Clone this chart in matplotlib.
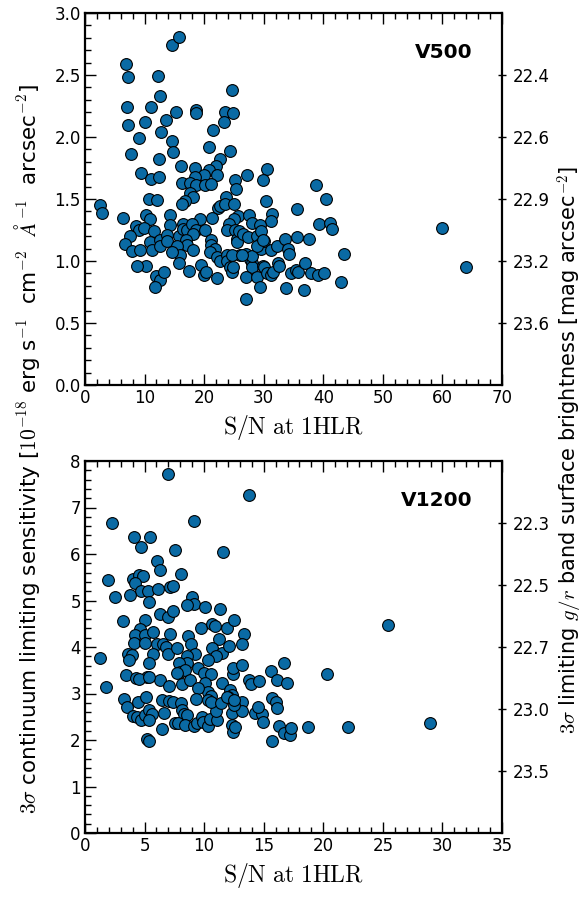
import matplotlib
matplotlib.use("Agg")
import matplotlib.pyplot as plt
from matplotlib.ticker import MultipleLocator

plt.rcParams['mathtext.fontset'] = 'cm'
plt.rcParams['font.family'] = ['DejaVu Sans']

# ---------------- data ----------------
v500_sn = [14.55, 15.8, 6.9, 7.2, 12.25, 12.65, 24.7, 7.05, 11.0, 15.3, 18.7, 18.6, 23.5, 24.9,
           7.15, 10.0, 13.65, 23.3, 21.5, 12.7, 9.05, 14.65, 20.8, 7.65, 14.8, 24.4, 12.35, 22.6,
           16.1, 18.5, 22.0, 20.8, 30.5, 9.35, 11.1, 12.5, 19.9, 22.2, 18.5, 27.25,
           16.2, 17.6, 18.6, 20.1, 21.2, 25.2, 25.3, 29.9, 38.8,
           17.6, 18.2, 23.6, 10.7, 12.1, 16.8, 30.3, 40.4,
           16.3, 2.45, 2.9, 22.3, 22.7, 23.5, 25.0, 35.6,
           6.4, 10.2, 10.9, 14.2, 14.3, 19.3, 21.4, 25.6, 25.0, 27.6, 31.4, 31.3, 28.1, 24.1, 23.9,
           29.3, 39.2, 41.2, 41.5, 59.9,
           8.5, 9.1, 9.85, 11.6, 7.55, 6.7, 7.9, 9.2, 10.9, 11.2, 12.6, 12.6, 13.7, 13.7, 15.7,
           16.5, 16.5, 17.1, 17.9, 18.6, 18.2, 17.0, 17.1, 15.4, 15.9, 14.55, 15.7, 18.1, 17.5,
           20.2, 21.15, 21.15, 21.8, 20.9, 22.1, 22.7, 23.9, 23.9, 24.3, 24.7, 19.4, 19.9, 20.3, 22.2,
           25.1, 25.45, 25.55, 25.9, 26.6, 27.4, 26.1, 27.0, 27.7, 28.0, 28.0, 28.1, 27.1, 28.8, 27.0, 29.3,
           28.8, 29.4, 29.5, 30.05, 29.8, 30.05, 30.5, 31.2, 31.5, 31.3, 32.2, 32.4, 32.5, 33.5, 34.0,
           34.2, 35.6, 37.6, 34.5, 35.5, 35.8, 37.0, 38.0, 39.05, 40.2, 33.7, 36.7, 43.0, 43.5, 63.9,
           10.3, 8.7, 12.0, 12.6, 13.3, 11.7, 29.5, 28.8, 29.9, 24.6, 26.3, 24.9]
v500_sens = [2.74, 2.81, 2.59, 2.48, 2.49, 2.33, 2.38, 2.24, 2.24, 2.20, 2.22, 2.19, 2.20, 2.19,
             2.10, 2.12, 2.14, 2.12, 2.06, 2.04, 1.99, 1.97, 1.92, 1.86, 1.88, 1.89, 1.82, 1.82,
             1.77, 1.75, 1.77, 1.73, 1.74, 1.71, 1.66, 1.68, 1.69, 1.69, 1.68, 1.69,
             1.63, 1.63, 1.61, 1.61, 1.62, 1.65, 1.58, 1.65, 1.61,
             1.55, 1.52, 1.52, 1.50, 1.49, 1.48, 1.48, 1.50,
             1.46, 1.45, 1.39, 1.43, 1.44, 1.46, 1.46, 1.42,
             1.35, 1.37, 1.34, 1.37, 1.29, 1.34, 1.35, 1.36, 1.34, 1.37, 1.38, 1.32, 1.31, 1.30, 1.25,
             1.29, 1.30, 1.31, 1.26, 1.27,
             1.28, 1.25, 1.27, 1.24, 1.20, 1.14, 1.08, 1.09, 1.15, 1.09, 1.17, 1.12, 1.21, 1.16, 1.20,
             1.30, 1.26, 1.25, 1.30, 1.25, 1.22, 1.17, 1.13, 1.12, 1.05, 1.07, 0.98, 1.09, 0.92,
             1.25, 1.17, 1.13, 1.10, 1.07, 1.03, 1.00, 1.05, 1.00, 0.95, 0.91, 0.97, 0.89, 0.91, 0.86,
             1.25, 1.18, 1.15, 1.24, 1.22, 1.19, 1.05, 1.06, 1.02, 0.98, 0.95, 1.04, 0.87, 0.87, 0.69, 0.79,
             1.20, 1.14, 1.10, 1.16, 0.96, 0.95, 0.90, 0.89, 0.91, 1.09, 1.12, 0.98, 0.96, 1.18, 1.10,
             1.06, 1.19, 1.18, 0.90, 0.93, 0.91, 0.98, 0.90, 0.89, 0.90, 0.78, 0.77, 0.83, 1.06, 0.95,
             0.96, 0.96, 0.88, 0.85, 0.91, 0.79, 1.24, 1.12, 1.17, 1.05, 1.05, 0.95]

v1200_sn = [7.0, 13.74,
            2.27, 9.12, 4.14, 5.43, 4.73, 7.55, 11.6,
            6.04, 6.3, 8.08, 1.93, 4.06, 4.56, 4.9, 4.2,
            4.73, 5.29, 6.13, 7.13, 7.39, 2.55, 3.8, 5.34,
            8.95, 9.15, 8.6, 10.1, 11.3, 6.3, 6.94, 7.39,
            3.19, 5.06, 9.7, 10.66, 10.9, 11.9, 12.5, 25.45,
            4.59, 4.17, 5.06, 4.09, 5.06, 5.73, 7.13, 8.65, 8.92,
            11.25, 13.35, 13.15, 6.07, 6.52, 6.8, 6.94, 7.7,
            3.58, 3.97, 3.72, 5.68, 1.26, 5.4,
            10.7, 11.5, 11.0, 12.1, 9.23, 8.6, 8.6, 10.35,
            7.9, 7.97, 8.4, 9.45, 7.75, 10.0, 10.6,
            12.4, 12.45, 13.2, 15.6, 16.7, 20.3,
            3.47, 4.28, 5.18, 6.3,
            4.56, 5.37, 1.79, 7.05, 8.17, 8.81,
            10.07, 10.3, 9.5, 10.58, 11.47,
            12.17, 12.3, 12.03, 13.8, 13.96, 14.6,
            16.1, 16.95,
            3.27, 3.55, 4.48, 5.09, 4.0, 4.34, 4.7,
            5.06, 5.37, 5.62, 5.37, 6.43, 7.08, 7.41, 6.66, 6.43,
            5.17, 5.34, 8.06, 8.17, 8.31, 8.59,
            7.58, 7.78, 8.39, 9.17, 9.37, 9.32,
            9.85, 9.88, 10.35, 10.49, 11.05, 10.97,
            10.35, 10.58, 11.42, 11.9,
            12.3, 12.37, 12.4, 12.6, 13.15, 13.15, 12.5, 12.5,
            14.24, 14.83, 14.55, 14.94, 15.67, 16.0, 16.14,
            16.28, 16.7, 17.2, 17.3, 15.7, 18.7, 22.05, 28.96]
v1200_sens = [7.73, 7.27,
              6.66, 6.70, 6.37, 6.37, 6.16, 6.09, 6.05,
              5.84, 5.66, 5.58, 5.44, 5.46, 5.55, 5.53, 5.38,
              5.20, 5.20, 5.25, 5.28, 5.31, 5.07, 5.12, 4.97,
              5.07, 4.92, 4.91, 4.85, 4.81, 4.72, 4.65, 4.78,
              4.55, 4.58, 4.41, 4.49, 4.45, 4.41, 4.59, 4.48,
              4.39, 4.26, 4.26, 4.09, 4.08, 4.33, 4.28, 4.24, 4.06,
              4.17, 4.29, 4.06, 4.06, 4.06, 4.01, 3.85, 3.97,
              3.86, 3.83, 3.71, 3.86, 3.76, 3.66,
              3.97, 3.88, 3.81, 4.03, 3.84, 3.81, 3.65, 3.72,
              3.65, 3.47, 3.51, 3.55, 3.45, 3.44, 3.41,
              3.43, 3.55, 3.62, 3.49, 3.66, 3.41,
              3.40, 3.34, 3.36, 3.29,
              3.32, 3.35, 3.13, 3.16, 3.20, 3.29,
              3.22, 3.04, 3.11, 2.95, 3.22,
              3.08, 2.97, 2.92, 3.29, 3.20, 3.27,
              3.28, 3.23,
              2.88, 2.70, 2.81, 2.93, 2.52, 2.50, 2.44,
              2.54, 2.64, 2.55, 2.43, 2.86, 2.84, 2.82, 2.57, 2.23,
              2.02, 1.98, 2.79, 2.65, 2.56, 2.54,
              2.36, 2.36, 2.32, 2.31, 2.36, 2.88,
              2.50, 2.39, 2.30, 2.46, 2.44, 2.63,
              2.86, 2.82, 2.79, 2.92,
              2.57, 2.32, 2.18, 2.29, 2.82, 2.63, 2.75, 2.87,
              2.59, 2.56, 2.70, 2.39, 2.90, 2.82, 2.68,
              2.30, 2.16, 2.11, 2.25, 1.98, 2.27, 2.29, 2.37]

v500_mag_labels = ['23.6', '23.2', '22.9', '22.6', '22.4']
v1200_mag_labels = ['23.5', '23.0', '22.7', '22.5', '22.3']
panel_names = ['V500', 'V1200']

# ---------------- figure ----------------
W, H = 587, 899
fig = plt.figure(figsize=(W / 100, H / 100), dpi=100)

left = 85 / W
width = (502 - 85) / W
ph = 372 / H
ax_top = fig.add_axes([left, 1 - 385 / H, width, ph])
ax_bot = fig.add_axes([left, 1 - 833 / H, width, ph])

blue = '#0a6aa4'

panels = [
    (ax_top, v500_sn, v500_sens, (0, 70), (0, 3.0), 10, 2, 0.5, 0.1, v500_mag_labels, panel_names[0]),
    (ax_bot, v1200_sn, v1200_sens, (0, 35), (0, 8), 5, 1, 1, 0.2, v1200_mag_labels, panel_names[1]),
]

for ax, xs, ys, xl, yl, xmaj, xmin, ymaj, ymin, maglab, name in panels:
    ax.scatter(xs, ys, s=72, c=blue, edgecolors='black', linewidths=0.8, zorder=3)
    ax.set_xlim(*xl)
    ax.set_ylim(*yl)
    ax.xaxis.set_major_locator(MultipleLocator(xmaj))
    ax.xaxis.set_minor_locator(MultipleLocator(xmin))
    ax.yaxis.set_major_locator(MultipleLocator(ymaj))
    ax.yaxis.set_minor_locator(MultipleLocator(ymin))
    ax.tick_params(which='both', direction='in', top=True, right=True, labelsize=12,
                   width=1.0, colors='black')
    ax.tick_params(which='major', length=8)
    ax.tick_params(which='minor', length=4)
    ax.tick_params(axis='x', which='major', pad=3)
    ax.tick_params(axis='y', which='major', pad=3)
    for sp in ax.spines.values():
        sp.set_linewidth(1.6)
    ax.set_xlabel(r'$\mathrm{S/N\ at\ 1HLR}$', fontsize=17, labelpad=4)
    ax.text(0.93, 0.895, name, transform=ax.transAxes, ha='right', va='center',
            fontsize=14.5, fontweight='bold')
    # right twin axis with magnitudes
    ax2 = ax.twinx()
    ax2.set_ylim(*yl)
    top = yl[1]
    ax2.set_yticks([top * k / 6 for k in range(1, 6)])
    ax2.set_yticklabels(maglab)
    ax2.tick_params(axis='y', direction='inout', length=6, width=1.0, labelsize=12, pad=5)
    ax2.yaxis.set_minor_locator(plt.NullLocator())
    for sp in ax2.spines.values():
        sp.set_visible(False)

fig.text(27 / W, 0.5,
         r'$3\sigma$ continuum limiting sensitivity [$10^{-18}$ erg s$^{-1}$  cm$^{-2}$  $\AA^{-1}$  arcsec$^{-2}$]',
         rotation=90, ha='center', va='center', fontsize=15.5)
fig.text(570 / W, 0.5,
         r'$3\sigma$ limiting $g/r$ band surface brightness [mag arcsec$^{-2}$]',
         rotation=90, ha='center', va='center', fontsize=15)

fig.savefig('out.png', dpi=100)
